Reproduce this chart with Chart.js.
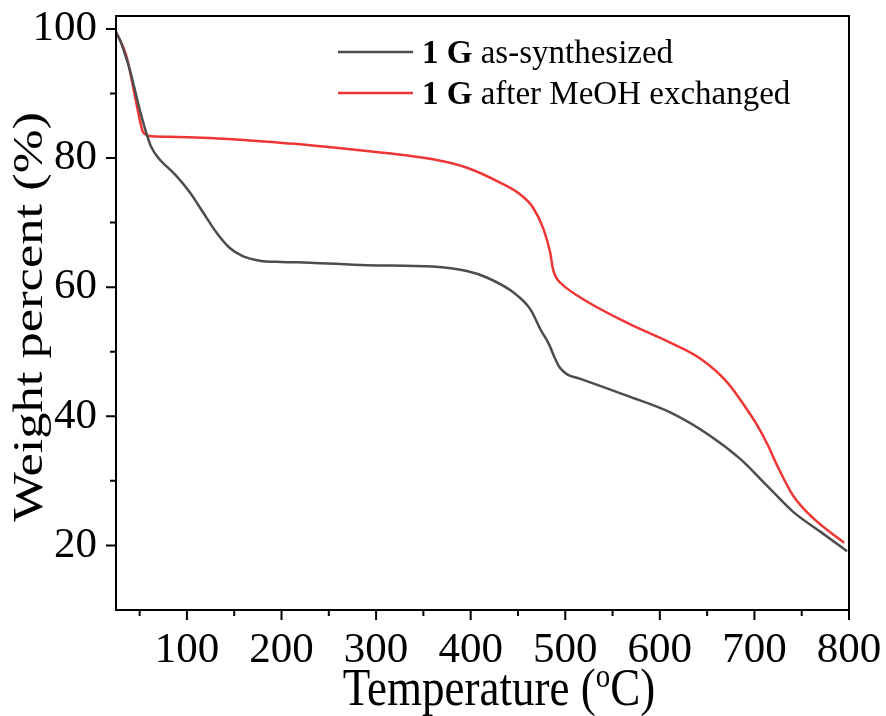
<!DOCTYPE html>
<html>
<head>
<meta charset="utf-8">
<script src="https://cdn.jsdelivr.net/npm/chart.js@4.4.0/dist/chart.umd.min.js"></script>
<style>
  html, body { margin: 0; padding: 0; background: #fff; }
</style>
</head>
<body>
<canvas id="tga" width="886" height="716"></canvas>
<script>
const SERIF = "'Liberation Serif', 'Times New Roman', serif";

// TGA data (temperature in oC, weight in %)
const tempAsSynth = [25, 30, 34, 39, 44, 51, 57, 62, 71, 80, 89, 103, 117, 131, 145, 159, 177, 200, 230, 290, 360, 396, 417, 445, 463, 474, 483, 489, 494, 502, 516, 565, 611, 653, 685, 713, 741, 770, 798];
const wtAsSynth   = [99.5, 98.0, 96.3, 94.0, 91.1, 87.0, 83.9, 81.8, 79.8, 78.5, 77.2, 74.7, 71.6, 68.5, 66.1, 64.8, 64.1, 63.9, 63.8, 63.4, 63.2, 62.5, 61.5, 59.2, 56.6, 53.4, 51.1, 49.0, 47.6, 46.5, 45.8, 43.2, 40.6, 37.0, 33.4, 29.3, 25.2, 22.1, 19.1];

const tempMeOH = [25, 30, 36, 43, 50, 53, 57, 60, 80, 124, 177, 230, 290, 360, 396, 431, 452, 466, 477, 484, 487, 490, 494, 516, 565, 611, 643, 671, 692, 703, 714, 724, 741, 763, 795];
const wtMeOH   = [99.5, 98.0, 95.8, 91.1, 86.0, 84.2, 83.6, 83.4, 83.3, 83.1, 82.6, 82.0, 81.1, 79.8, 78.5, 76.2, 74.4, 72.3, 69.0, 65.4, 62.8, 61.6, 60.8, 58.4, 54.5, 51.4, 48.9, 45.3, 41.1, 38.6, 35.6, 32.4, 27.7, 24.1, 20.4];

const xMajor = [100, 200, 300, 400, 500, 600, 700, 800];
const xMinor = [50, 150, 250, 350, 450, 550, 650, 750];
const yMajor = [20, 40, 60, 80, 100];
const yMinor = [30, 50, 70, 90];

const legendLabels = ['as-synthesized', 'after MeOH exchanged'];
const lineColors = ['#4d4d4d', '#ef3636'];

function toPoints(xs, ys) {
  return xs.map((x, i) => ({ x: x, y: ys[i] }));
}

// keep the plot box where the picture has it, no label overflow padding
function noPad(s) {
  s.paddingTop = 0;
  s.paddingBottom = 0;
  s.paddingLeft = 0;
  s.paddingRight = 0;
}

// frame round the plot and outward ticks (major + minor)
const frameTicks = {
  id: 'frameTicks',
  afterDraw(chart) {
    const { ctx, chartArea: a, scales } = chart;
    ctx.save();
    ctx.strokeStyle = '#000';
    ctx.lineWidth = 2;
    ctx.strokeRect(a.left, a.top, a.right - a.left, a.bottom - a.top);
    ctx.beginPath();
    xMajor.forEach(v => { const p = scales.x.getPixelForValue(v); ctx.moveTo(p, a.bottom); ctx.lineTo(p, a.bottom + 10); });
    xMinor.forEach(v => { const p = scales.x.getPixelForValue(v); ctx.moveTo(p, a.bottom); ctx.lineTo(p, a.bottom + 6); });
    yMajor.forEach(v => { const p = scales.y.getPixelForValue(v); ctx.moveTo(a.left, p); ctx.lineTo(a.left - 10, p); });
    yMinor.forEach(v => { const p = scales.y.getPixelForValue(v); ctx.moveTo(a.left, p); ctx.lineTo(a.left - 6, p); });
    ctx.stroke();
    ctx.restore();
  }
};

// axis titles (slightly tall lettering) and the legend with bold "1 G"
const titlesLegend = {
  id: 'titlesLegend',
  afterDraw(chart) {
    const ctx = chart.ctx;
    ctx.save();
    ctx.fillStyle = '#000';
    ctx.textBaseline = 'alphabetic';
    ctx.textAlign = 'left';

    // x title: Temperature (oC)
    const big = '45px ' + SERIF, small = '29px ' + SERIF;
    ctx.font = big;
    const w1 = ctx.measureText('Temperature (').width;
    const w3 = ctx.measureText('C)').width;
    ctx.font = small;
    const w2 = ctx.measureText('o').width;
    const total = w1 + w2 + w3;
    ctx.save();
    ctx.translate(499 - total / 2, 705);
    ctx.scale(1, 1.15);
    ctx.font = big;
    ctx.fillText('Temperature (', 0, 0);
    ctx.font = small;
    ctx.fillText('o', w1, -16);
    ctx.font = big;
    ctx.fillText('C)', w1 + w2, 0);
    ctx.restore();

    // y title
    ctx.save();
    ctx.translate(42, 317);
    ctx.rotate(-Math.PI / 2);
    ctx.scale(1.25, 1);
    ctx.font = '42px ' + SERIF;
    ctx.textAlign = 'center';
    ctx.fillText('Weight percent (%)', 0, 0);
    ctx.restore();

    // legend
    const rows = [52, 93];
    rows.forEach((y, i) => {
      ctx.strokeStyle = lineColors[i];
      ctx.lineWidth = 2.5;
      ctx.beginPath();
      ctx.moveTo(338, y);
      ctx.lineTo(413, y);
      ctx.stroke();
      ctx.font = 'bold 33px ' + SERIF;
      ctx.fillText('1 G', 422, y + 11);
      const bw = ctx.measureText('1 G ').width;
      ctx.font = '33px ' + SERIF;
      ctx.fillText(legendLabels[i], 422 + bw, y + 11);
    });
    ctx.restore();
  }
};

new Chart(document.getElementById('tga'), {
  type: 'line',
  data: {
    datasets: [
      {
        label: '1 G ' + legendLabels[0],
        data: toPoints(tempAsSynth, wtAsSynth),
        borderColor: lineColors[0],
        borderWidth: 2.5,
        pointRadius: 0,
        cubicInterpolationMode: 'monotone'
      },
      {
        label: '1 G ' + legendLabels[1],
        data: toPoints(tempMeOH, wtMeOH),
        borderColor: lineColors[1],
        borderWidth: 2.5,
        pointRadius: 0,
        cubicInterpolationMode: 'monotone'
      }
    ]
  },
  options: {
    responsive: false,
    animation: false,
    devicePixelRatio: 1,
    layout: { padding: { left: 0, top: 16, right: 37, bottom: 0 } },
    plugins: {
      legend: { display: false },
      tooltip: { enabled: false }
    },
    scales: {
      x: {
        type: 'linear',
        min: 25,
        max: 800,
        border: { display: false },
        grid: { display: false, drawTicks: false },
        ticks: { color: '#000', font: { family: SERIF, size: 43 }, padding: 15, maxRotation: 0 },
        afterBuildTicks: s => { s.ticks = xMajor.map(v => ({ value: v })); },
        afterFit: s => { s.height = 106; noPad(s); }
      },
      y: {
        min: 10,
        max: 102,
        border: { display: false },
        grid: { display: false, drawTicks: false },
        ticks: { color: '#000', font: { family: SERIF, size: 43 }, padding: 19 },
        afterBuildTicks: s => { s.ticks = yMajor.map(v => ({ value: v })); },
        afterFit: s => { s.width = 116; noPad(s); }
      }
    }
  },
  plugins: [frameTicks, titlesLegend]
});
</script>
</body>
</html>
